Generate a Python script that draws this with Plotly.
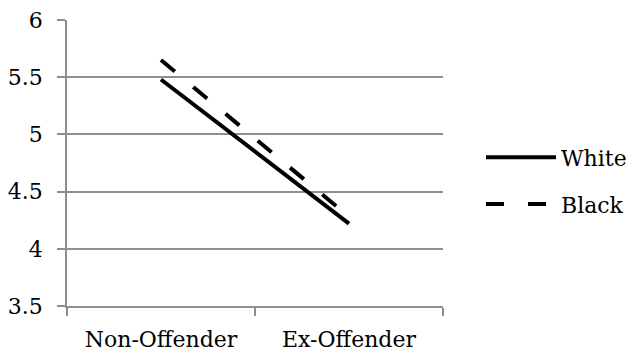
import plotly.graph_objects as go

categories = ["Non-Offender", "Ex-Offender"]
white = [5.48, 4.22]
black = [5.65, 4.28]
y_ticks = [3.5, 4, 4.5, 5, 5.5, 6]
y_labels = ["3.5", "4", "4.5", "5", "5.5", "6"]

FONT = "DejaVu Serif"
GRID = "#8e8e8e"

fig = go.Figure()
fig.add_trace(go.Scatter(x=categories, y=white, name="White", mode="lines",
                         legendgroup="w",
                         line=dict(color="black", width=4)))
fig.add_trace(go.Scatter(x=categories, y=black, name="Black", mode="lines",
                         legendgroup="b",
                         line=dict(color="black", width=4, dash="18px,24px")))

fig.update_layout(
    width=632, height=356,
    margin=dict(l=67, r=189, t=20, b=50, autoexpand=False),
    paper_bgcolor="white", plot_bgcolor="white",
    font=dict(family=FONT, size=22, color="black"),
    showlegend=True,
    legend=dict(x=1.101, y=0.437, xanchor="left", yanchor="middle",
                itemwidth=70, font=dict(size=22), tracegroupgap=15,
                bgcolor="rgba(0,0,0,0)"),
)
fig.update_xaxes(
    type="category", range=[-0.5, 1.5], tickson="boundaries",
    showline=True, linecolor=GRID, linewidth=1.5,
    ticks="outside", ticklen=8, tickcolor=GRID, tickwidth=1.5,
    showgrid=False, zeroline=False, ticklabelstandoff=13, automargin=False,
)
fig.update_yaxes(
    range=[3.5, 6], tickvals=y_ticks, ticktext=y_labels,
    showline=True, linecolor=GRID, linewidth=1.5,
    ticks="outside", ticklen=8, tickcolor=GRID, tickwidth=1.5,
    showgrid=True, gridcolor=GRID, gridwidth=1.5, zeroline=False,
    ticklabelstandoff=10, automargin=False,
)

fig.write_html("out.html")
